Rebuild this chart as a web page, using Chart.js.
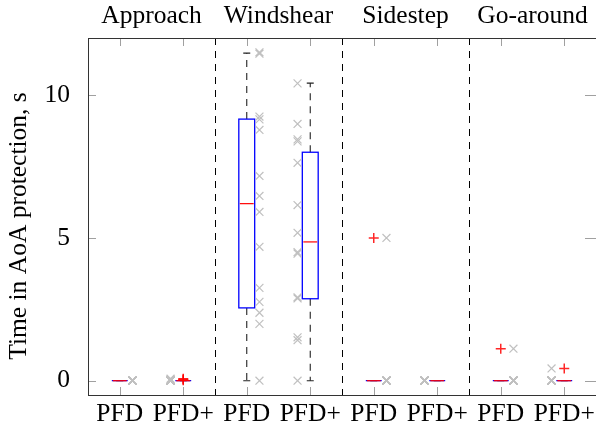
<!DOCTYPE html>
<html>
<head>
<meta charset="utf-8">
<script src="https://cdn.jsdelivr.net/npm/chart.js@4.4.1/dist/chart.umd.min.js"></script>
<style>
  html, body { margin: 0; padding: 0; background: #fff; }
  #wrap { width: 596px; height: 425px; }
</style>
</head>
<body>
<div id="wrap"><canvas id="aoaChart" width="596" height="425"></canvas></div>
<script>
const scenarios = ['Approach', 'Windshear', 'Sidestep', 'Go-around'];
const displays = ['PFD', 'PFD+'];
const yTicks = [0, 5, 10];

// box statistics per condition (Approach PFD, Approach PFD+, Windshear PFD, ...)
const lowerWhisker = [0, 0, 0, 0, 0, 0, 0, 0];
const lowerQuartile = [0, 0, 2.55, 2.87, 0, 0, 0, 0];
const medians = [0, 0, 6.2, 4.86, 0, 0, 0, 0];
const upperQuartile = [0, 0, 9.16, 8.0, 0, 0, 0, 0];
const upperWhisker = [0, 0, 11.47, 10.42, 0, 0, 0, 0];
const outliers = [[], [0.02, 0.04, 0.07], [], [], [5.0], [], [1.12], [0.43]];

// time in AoA protection for each pilot
const approachPFD = [0, 0, 0, 0, 0, 0, 0, 0, 0, 0, 0, 0, 0, 0];
const approachPFDplus = [0, 0, 0, 0, 0, 0, 0, 0, 0, 0, 0, 0.02, 0.04, 0.07];
const windshearPFD = [11.5, 11.45, 9.25, 9.15, 8.78, 7.17, 6.47, 5.91, 4.69, 3.25, 2.76, 2.38, 1.99, 0];
const windshearPFDplus = [10.41, 8.99, 8.45, 8.38, 7.63, 6.15, 5.18, 4.5, 4.45, 2.92, 2.88, 1.52, 1.42, 0];
const sidestepPFD = [5.0, 0, 0, 0, 0, 0, 0, 0, 0, 0, 0, 0, 0, 0];
const sidestepPFDplus = [0, 0, 0, 0, 0, 0, 0, 0, 0, 0, 0, 0, 0, 0];
const goAroundPFD = [1.12, 0, 0, 0, 0, 0, 0, 0, 0, 0, 0, 0, 0, 0];
const goAroundPFDplus = [0.43, 0, 0, 0, 0, 0, 0, 0, 0, 0, 0, 0, 0, 0];

const pilotResults = [approachPFD, approachPFDplus, windshearPFD, windshearPFDplus,
  sidestepPFD, sidestepPFDplus, goAroundPFD, goAroundPFDplus];

const conditionLabels = [];
scenarios.forEach(() => displays.forEach(d => conditionLabels.push(d)));

const FONT = 'Liberation Serif, "Times New Roman", serif';
const BOX_HALF = 0.125;
const CAP_HALF = 0.055;
const SPREAD = 0.2;

// raw points sit beside the box: right for PFD, left for PFD+
const rawPoints = [];
pilotResults.forEach((vals, i) => {
  const off = i % 2 === 0 ? SPREAD : -SPREAD;
  vals.forEach(v => rawPoints.push({ x: i + off, y: v }));
});
const outlierPoints = [];
outliers.forEach((vals, i) => vals.forEach(v => outlierPoints.push({ x: i, y: v })));

const boxPlugin = {
  id: 'boxDraw',
  beforeDatasetsDraw(chart) {
    const { ctx, chartArea: a, scales: { x, y } } = chart;
    ctx.save();

    // scenario separators
    ctx.strokeStyle = '#000';
    ctx.lineWidth = 1;
    ctx.setLineDash([7, 6]);
    [1.5, 3.5, 5.5].forEach(p => {
      const px = Math.round(x.getPixelForValue(p)) + 0.5;
      ctx.beginPath();
      ctx.moveTo(px, a.top);
      ctx.lineTo(px, a.bottom);
      ctx.stroke();
    });

    for (let i = 0; i < conditionLabels.length; i++) {
      const cx = x.getPixelForValue(i);
      const l = x.getPixelForValue(i - BOX_HALF);
      const r = x.getPixelForValue(i + BOX_HALF);
      const yQ1 = y.getPixelForValue(lowerQuartile[i]);
      const yQ3 = y.getPixelForValue(upperQuartile[i]);
      const yLo = y.getPixelForValue(lowerWhisker[i]);
      const yHi = y.getPixelForValue(upperWhisker[i]);
      const yMed = y.getPixelForValue(medians[i]);

      // whiskers
      ctx.strokeStyle = '#222';
      ctx.lineWidth = 1.1;
      ctx.setLineDash([7, 6]);
      ctx.beginPath();
      ctx.moveTo(cx, yQ3); ctx.lineTo(cx, yHi);
      ctx.moveTo(cx, yQ1); ctx.lineTo(cx, yLo);
      ctx.stroke();
      ctx.setLineDash([]);
      ctx.beginPath();
      ctx.moveTo(x.getPixelForValue(i - CAP_HALF), yHi);
      ctx.lineTo(x.getPixelForValue(i + CAP_HALF), yHi);
      ctx.moveTo(x.getPixelForValue(i - CAP_HALF), yLo);
      ctx.lineTo(x.getPixelForValue(i + CAP_HALF), yLo);
      ctx.stroke();

      // box
      ctx.strokeStyle = '#0000ff';
      ctx.lineWidth = 1.3;
      ctx.strokeRect(l, yQ3, r - l, yQ1 - yQ3);

      // median
      ctx.strokeStyle = '#ff0000';
      ctx.lineWidth = 1.2;
      ctx.beginPath();
      ctx.moveTo(l + 1, yMed);
      ctx.lineTo(r - 1, yMed);
      ctx.stroke();
    }
    ctx.restore();
  },
  afterDraw(chart) {
    const { ctx, chartArea: a, scales: { x, y } } = chart;
    ctx.save();

    // tick marks on all four sides
    ctx.strokeStyle = '#a0a0a0';
    ctx.lineWidth = 1;
    const tl = 8;
    ctx.beginPath();
    for (let i = 0; i < conditionLabels.length; i++) {
      const px = Math.round(x.getPixelForValue(i)) + 0.5;
      ctx.moveTo(px, a.bottom); ctx.lineTo(px, a.bottom - tl);
      ctx.moveTo(px, a.top); ctx.lineTo(px, a.top + tl);
    }
    yTicks.forEach(v => {
      const py = Math.round(y.getPixelForValue(v)) + 0.5;
      ctx.moveTo(a.left, py); ctx.lineTo(a.left + tl, py);
      ctx.moveTo(a.right, py); ctx.lineTo(a.right - 11, py);
    });
    ctx.stroke();

    // axis frame (right edge falls just outside the canvas)
    ctx.strokeStyle = '#333';
    ctx.strokeRect(a.left + 0.5, a.top + 0.5, a.right - a.left + 1, a.bottom - a.top);

    // scenario titles
    ctx.fillStyle = '#000';
    ctx.font = '25.5px ' + FONT;
    ctx.textAlign = 'center';
    ctx.textBaseline = 'alphabetic';
    scenarios.forEach((s, k) => {
      ctx.fillText(s, x.getPixelForValue(2 * k + 0.5), 23);
    });

    // y axis title
    ctx.translate(26, 226);
    ctx.rotate(-Math.PI / 2);
    ctx.fillText('Time in AoA protection, s', 0, 0);
    ctx.restore();
  }
};

new Chart(document.getElementById('aoaChart'), {
  type: 'scatter',
  data: {
    datasets: [
      {
        data: rawPoints,
        pointStyle: 'crossRot',
        radius: 5.6,
        borderWidth: 1.2,
        borderColor: 'rgb(192,192,192)',
        backgroundColor: 'transparent'
      },
      {
        data: outlierPoints,
        pointStyle: 'cross',
        radius: 5,
        borderWidth: 1.5,
        borderColor: 'rgba(255,0,0,0.85)',
        backgroundColor: 'transparent'
      }
    ]
  },
  options: {
    responsive: false,
    animation: false,
    layout: { autoPadding: false, padding: { top: 38, right: 0, bottom: 0, left: 0 } },
    plugins: { legend: { display: false }, tooltip: { enabled: false } },
    scales: {
      x: {
        type: 'linear',
        min: -0.5,
        max: 7.5,
        grid: { display: false },
        border: { display: false },
        afterBuildTicks: s => { s.ticks = conditionLabels.map((_, i) => ({ value: i })); },
        afterFit: s => {
          s.height = 30;
          s.paddingLeft = 0;
          s.paddingRight = 0;
        },
        ticks: {
          autoSkip: false,
          maxRotation: 0,
          padding: -4,
          color: '#000',
          font: { family: FONT, size: 25.5 },
          callback: v => conditionLabels[v]
        }
      },
      y: {
        min: -0.5,
        max: 12,
        grid: { display: false },
        border: { display: false },
        afterBuildTicks: s => { s.ticks = yTicks.map(v => ({ value: v })); },
        afterFit: s => {
          s.width = 88;
          s.paddingTop = 0;
          s.paddingBottom = 0;
        },
        ticks: {
          padding: 10,
          color: '#000',
          font: { family: FONT, size: 25.5 }
        }
      }
    }
  },
  plugins: [boxPlugin]
});
</script>
</body>
</html>
